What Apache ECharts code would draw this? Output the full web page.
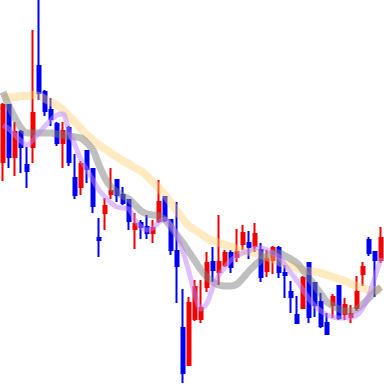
<!DOCTYPE html>
<html><head><meta charset="utf-8">
<script src="https://cdn.jsdelivr.net/npm/echarts@6/dist/echarts.min.js"></script>
<style>html,body{margin:0;padding:0;background:#fff}#c{width:384px;height:384px}</style>
</head><body><div id="c"></div>
<script>
const openV  = [222,279,227,252,219,237,318,292,274,260,241,256,206,197,233,215,146,171,190,204,189,184,155,161,157,151,163,187,164,133,56,19,65,65,97,122,112,119,131,127,140,141,138,134,113,124,136,111,92,69,76,121,101,82,61,79,98,70,67,76,110,144,132,124];
const closeV = [279,227,252,237,213,271,291,273,265,241,253,222,189,220,215,178,144,178,193,189,181,163,160,157,151,156,182,164,134,118,11,81,97,76,121,114,122,131,117,132,151,137,150,107,125,136,112,109,87,61,106,67,79,58,50,87,66,79,70,92,117,131,124,146];
const lowV   = [203,216,208,211,196,221,284,268,258,238,216,218,185,189,201,171,127,154,185,182,179,154,135,145,145,141,161,162,129,81,1,18,63,61,92,102,99,117,111,122,134,125,132,102,107,110,106,86,71,60,75,61,67,56,49,66,64,64,61,73,98,128,87,121];
const highV  = [281,279,262,254,237,354,384,294,286,262,262,258,230,223,234,216,166,186,216,205,197,185,171,164,169,164,204,188,165,182,95,87,104,104,132,137,169,134,134,155,159,153,161,141,134,138,138,119,103,88,108,122,102,91,71,90,99,86,79,108,122,147,133,157];
const maShort = [259,255,249,243,239,244,251,258,264,269,270,252,239,224,214,204,194,187,181,177,176,175,164,157,154,156,162,165,159,148,132,112,89,75,81,97,109,117,124,128,131,133,136,136,134,131,127,119,111,103,94,85,78,73,69,67,66,66,67,69,76,89,107,126];
const maMid   = [292,278,266,256,251,251,251,251,251,250,249,248,247,246,241,234,219,206,197,192,188,185,179,173,170,169,168,164,157,149,141,132,123,114,107,102,99,98,98,100,106,113,119,124,128,131,131,128,125,121,114,106,98,90,82,78,75,73,73,75,80,86,92,97];
const maLong  = [287,287,287,288,288,289,288,285,282,279,274,268,262,255,249,244,239,235,231,227,223,220,216,213,208,202,196,189,181,173,165,158,154,150,146,143,141,139,137,135,133,132,131,129,127,125,122,120,118,116,114,113,112,111,109,107,105,103,100,98,96,94,94,94];
const categories = openV.map((_, i) => 'D' + (i + 1));

const kData = openV.map((o, i) => [o, closeV[i], lowV[i], highV[i]]);
const chart = echarts.init(document.getElementById('c'));
chart.setOption({
  animation: false,
  grid: {left: 0, right: 0, top: 0, bottom: 0},
  xAxis: {type: 'category', data: categories, boundaryGap: true, show: false},
  yAxis: {type: 'value', min: 0, max: 384, show: false},
  series: [
    {type: 'candlestick', data: kData, barWidth: 4, z: 1,
     itemStyle: {color: '#ff0000', color0: '#0000ff', borderColor: '#f00000', borderColor0: '#0000f0', borderWidth: 2}},
    {type: 'line', data: maLong, smooth: 0.3, symbol: 'none', z: 3,
     lineStyle: {color: 'rgba(255,205,110,0.42)', width: 8}},
    {type: 'line', data: maMid, smooth: 0.3, symbol: 'none', z: 4,
     lineStyle: {color: 'rgba(128,128,128,0.5)', width: 7}},
    {type: 'line', data: maShort, smooth: 0.3, symbol: 'none', z: 5,
     lineStyle: {color: 'rgba(190,130,255,0.5)', width: 5}}
  ]
});
</script></body></html>
